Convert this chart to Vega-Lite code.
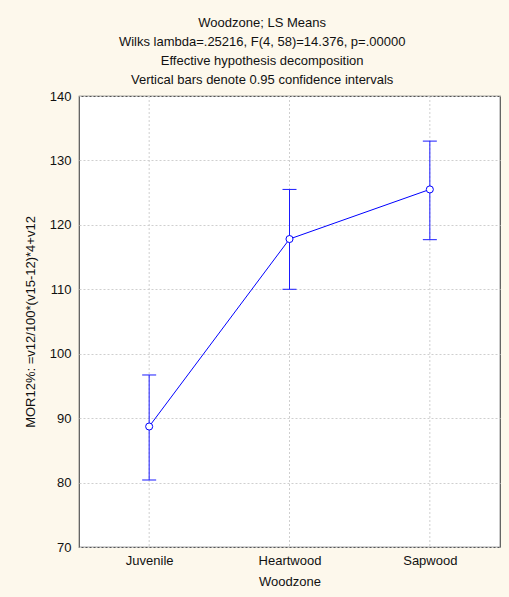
{
  "$schema": "https://vega.github.io/schema/vega-lite/v6.json",
  "autosize": {"type": "none"},
  "width": 421,
  "height": 451,
  "padding": {"left": 79, "top": 96, "right": 9, "bottom": 50},
  "background": "#fdf8ec",
  "title": {
    "text": ["Woodzone; LS Means", "Wilks lambda=.25216, F(4, 58)=14.376, p=.00000", "Effective hypothesis decomposition", "Vertical bars denote 0.95 confidence intervals"],
    "fontSize": 13,
    "fontWeight": "normal",
    "font": "Liberation Sans",
    "lineHeight": 19,
    "anchor": "middle",
    "frame": "bounds",
    "offset": 3,
    "color": "#111111"
  },
  "config": {
    "view": {"fill": "white", "stroke": "#555555", "strokeWidth": 1.2},
    "axis": {
      "labelFont": "Liberation Sans",
      "titleFont": "Liberation Sans",
      "labelFontSize": 13,
      "titleFontSize": 13,
      "titleFontWeight": "normal",
      "labelColor": "#111111",
      "titleColor": "#111111",
      "domain": false,
      "ticks": false,
      "gridColor": "#cfcfcf",
      "gridDash": [2, 2],
      "gridWidth": 1
    }
  },
  "data": {
    "values": [
      {"Woodzone": "Juvenile", "mean": 88.7, "lo": 80.4, "hi": 96.7},
      {"Woodzone": "Heartwood", "mean": 117.8, "lo": 110.0, "hi": 125.5},
      {"Woodzone": "Sapwood", "mean": 125.5, "lo": 117.7, "hi": 133.0}
    ]
  },
  "encoding": {
    "x": {
      "field": "Woodzone",
      "type": "ordinal",
      "sort": ["Juvenile", "Heartwood", "Sapwood"],
      "scale": {"type": "point", "padding": 0.5},
      "axis": {"labelAngle": 0, "labelPadding": 7, "titlePadding": 8, "grid": false}
    }
  },
  "layer": [
    {
      "mark": {"type": "rule", "color": "#cfcfcf", "strokeWidth": 1, "strokeDash": [2, 2]},
      "encoding": {}
    },
    {
      "mark": {"type": "rule", "color": "#1a1aff", "strokeWidth": 1, "opacity": 1},
      "encoding": {
        "y": {
          "field": "lo",
          "type": "quantitative",
          "scale": {"domain": [70, 140], "nice": false, "zero": false},
          "axis": {"values": [70, 80, 90, 100, 110, 120, 130, 140], "labelPadding": 8, "titlePadding": 12, "grid": true},
          "title": "MOR12%: =v12/100*(v15-12)*4+v12"
        },
        "y2": {"field": "hi"}
      }
    },
    {
      "mark": {"type": "tick", "color": "#1a1aff", "size": 14, "thickness": 1, "opacity": 1},
      "encoding": {"y": {"field": "lo", "type": "quantitative"}}
    },
    {
      "mark": {"type": "tick", "color": "#1a1aff", "size": 14, "thickness": 1, "opacity": 1},
      "encoding": {"y": {"field": "hi", "type": "quantitative"}}
    },
    {
      "mark": {"type": "line", "color": "#0000ff", "strokeWidth": 1},
      "encoding": {"y": {"field": "mean", "type": "quantitative"}}
    },
    {
      "mark": {"type": "point", "shape": "circle", "filled": true, "fill": "white", "stroke": "#0000ff", "strokeWidth": 1, "size": 50, "opacity": 1},
      "encoding": {"y": {"field": "mean", "type": "quantitative"}}
    }
  ]
}
